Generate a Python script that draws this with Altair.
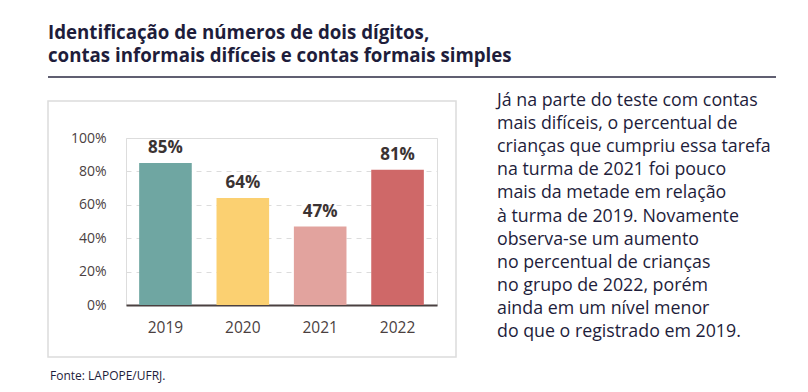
import altair as alt
import pandas as pd

years = ["2019", "2020", "2021", "2022"]
values = [85, 64, 47, 81]
colors = ["#6fa6a2", "#fbd071", "#e2a39e", "#cf6868"]

title_lines = [
    "Identificação de números de dois dígitos,",
    "contas informais difíceis e contas formais simples",
]
paragraph = [
    "Já na parte do teste com contas",
    "mais difíceis, o percentual de",
    "crianças que cumpriu essa tarefa",
    "na turma de 2021 foi pouco",
    "mais da metade em relação",
    "à turma de 2019. Novamente",
    "observa-se um aumento",
    "no percentual de crianças",
    "no grupo de 2022, porém",
    "ainda em um nível menor",
    "do que o registrado em 2019.",
]
source = "Fonte: LAPOPE/UFRJ."

FONT = "Open Sans"
NAVY = "#1e1d3b"
BROWN = "#4b3f3f"

df = pd.DataFrame({"year": years, "value": values,
                   "label": [f"{v}%" for v in values]})

# plot origin in page coords: (126, 138)
OX, OY = 126, 138

x_enc = alt.X("year:N", sort=years, title=None,
              scale=alt.Scale(paddingInner=0.32, paddingOuter=0.17),
              axis=alt.Axis(labelAngle=0, labelFontSize=15.5, labelColor=BROWN,
                            labelFont=FONT, labelPadding=15, ticks=False,
                            domainColor="#4a4040", domainWidth=2, grid=False))
y_enc = alt.Y("value:Q", title=None,
              scale=alt.Scale(domain=[0, 100]),
              axis=alt.Axis(values=[0, 20, 40, 60, 80, 100],
                            labelExpr="datum.value + '%'", labelOverlap=False,
                            labelFontSize=14, labelColor=BROWN, labelFont=FONT,
                            labelPadding=20, ticks=False, domain=False,
                            gridColor="#dcdcdc", gridDash=[5, 5], gridWidth=1))

box = alt.Chart(pd.DataFrame({"a": [0]})).mark_rect(
    fill=None, stroke="#dcdcdc", strokeWidth=1.5
).encode(x=alt.value(48 - OX), x2=alt.value(456 - OX),
         y=alt.value(101 - OY), y2=alt.value(357 - OY))

bars = alt.Chart(df).mark_bar().encode(
    x=x_enc, y=y_enc,
    color=alt.Color("year:N", scale=alt.Scale(domain=years, range=colors), legend=None),
)

labels = alt.Chart(df).mark_text(
    dy=-15, fontSize=17, fontWeight="bold", color="#3b3333", font=FONT
).encode(x=x_enc, y=y_enc, text="label:N")

def block(lines, x, y, **kw):
    return alt.Chart(pd.DataFrame({"t": ["\n".join(lines)]})).mark_text(
        align="left", baseline="alphabetic", font=FONT, lineBreak="\n", **kw
    ).encode(x=alt.value(x - OX), y=alt.value(y - OY), text="t:N")

title = block(title_lines, 48, 39, fontSize=18.7, fontWeight="bold", color=NAVY,
              lineHeight=23)

rule = alt.Chart(pd.DataFrame({"a": [0]})).mark_rule(
    stroke="#2b2a42", strokeWidth=1.5
).encode(x=alt.value(48 - OX), x2=alt.value(776 - OX), y=alt.value(77 - OY))

para = block(paragraph, 497, 106, fontSize=17.8, color=NAVY, lineHeight=23.1)

src = block([source], 50, 380, fontSize=12, color=NAVY)

chart = alt.layer(box, bars, labels, title, rule, para, src).properties(
    width=311, height=167,
    autosize=alt.AutoSizeParams(type="none"),
    padding={"left": OX - 8, "top": OY - 8, "right": 792 - (OX - 8) - 311,
             "bottom": 376 - (OY - 8) - 167},
).configure_view(stroke=None).configure(background="white")

chart.save("out.html", embed_options={"renderer": "svg", "actions": False})
